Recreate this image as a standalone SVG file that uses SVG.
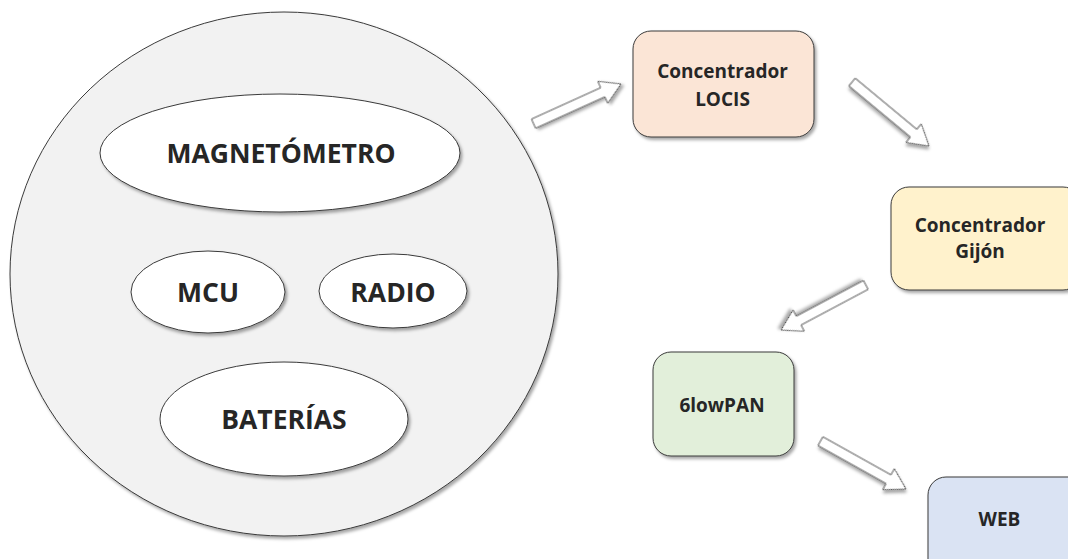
<svg xmlns="http://www.w3.org/2000/svg" width="1068" height="559" viewBox="0 0 1068 559">
<style>
.t{font-family:"Open Sans","Liberation Sans",sans-serif;font-weight:bold;fill:#262626;text-anchor:middle}
.big{font-size:26.5px}
.sm{font-size:19px}
.ell{fill:#ffffff;stroke:#3a3a3a;stroke-width:1}
.box{stroke:#3a3a3a;stroke-width:1}
.arr{fill:#ffffff;stroke:#595959;stroke-width:1}
</style>
<defs>
<filter id="sh" x="-20%" y="-20%" width="140%" height="140%">
<feDropShadow dx="2" dy="2.5" stdDeviation="1.5" flood-color="#000" flood-opacity="0.35"/>
</filter>
</defs>
<rect width="1068" height="559" fill="#ffffff"/>
<g id="device">
<ellipse cx="284" cy="274" rx="274" ry="262" fill="#f2f2f2" stroke="#3a3a3a" stroke-width="1" filter="url(#sh)"/>
<g id="magnetometro">
<ellipse class="ell" cx="280" cy="153" rx="180" ry="59" filter="url(#sh)"/>
<text class="t big" x="281" y="163">MAGNETÓMETRO</text>
</g>
<g id="mcu">
<ellipse class="ell" cx="208" cy="292" rx="77" ry="41" filter="url(#sh)"/>
<text class="t big" x="208" y="302">MCU</text>
</g>
<g id="radio">
<ellipse class="ell" cx="393" cy="291" rx="74" ry="37" filter="url(#sh)"/>
<text class="t big" x="393" y="302">RADIO</text>
</g>
<g id="baterias">
<ellipse class="ell" cx="284" cy="419" rx="124" ry="57" filter="url(#sh)"/>
<text class="t big" x="284" y="429">BATERÍAS</text>
</g>
</g>
<g id="locis">
<rect class="box" x="633" y="31" width="181" height="106" rx="18" fill="#fbe5d6" filter="url(#sh)"/>
<text class="t sm" x="722.5" y="78">Concentrador</text>
<text class="t sm" x="722.5" y="106">LOCIS</text>
</g>
<g id="gijon">
<rect class="box" x="891" y="187" width="190" height="103" rx="18" fill="#fff2cc" filter="url(#sh)"/>
<text class="t sm" x="980" y="232">Concentrador</text>
<text class="t sm" x="980" y="258">Gijón</text>
</g>
<g id="sixlowpan">
<rect class="box" x="653" y="352" width="141" height="104" rx="18" fill="#e2efda" filter="url(#sh)"/>
<text class="t sm" x="722" y="412">6lowPAN</text>
</g>
<g id="web">
<rect class="box" x="928" y="477" width="160" height="104" rx="18" fill="#dae3f3" filter="url(#sh)"/>
<text class="t sm" x="999.5" y="526">WEB</text>
</g>
<g id="connectors">
<g transform="translate(621,84) rotate(-24.4)" filter="url(#sh)"><path class="arr" d="M-96,-5 L-20,-5 L-20,-12 L0,0 L-20,12 L-20,5 L-96,5 Z"/></g>
<g transform="translate(929,146) rotate(39.7)" filter="url(#sh)"><path class="arr" d="M-100,-5 L-20,-5 L-20,-12 L0,0 L-20,12 L-20,5 L-100,5 Z"/></g>
<g transform="translate(781,330) rotate(152)" filter="url(#sh)"><path class="arr" d="M-96,-5 L-20,-5 L-20,-12 L0,0 L-20,12 L-20,5 L-96,5 Z"/></g>
<g transform="translate(906,489) rotate(29.2)" filter="url(#sh)"><path class="arr" d="M-98,-5 L-20,-5 L-20,-12 L0,0 L-20,12 L-20,5 L-98,5 Z"/></g>
</g>
</svg>
